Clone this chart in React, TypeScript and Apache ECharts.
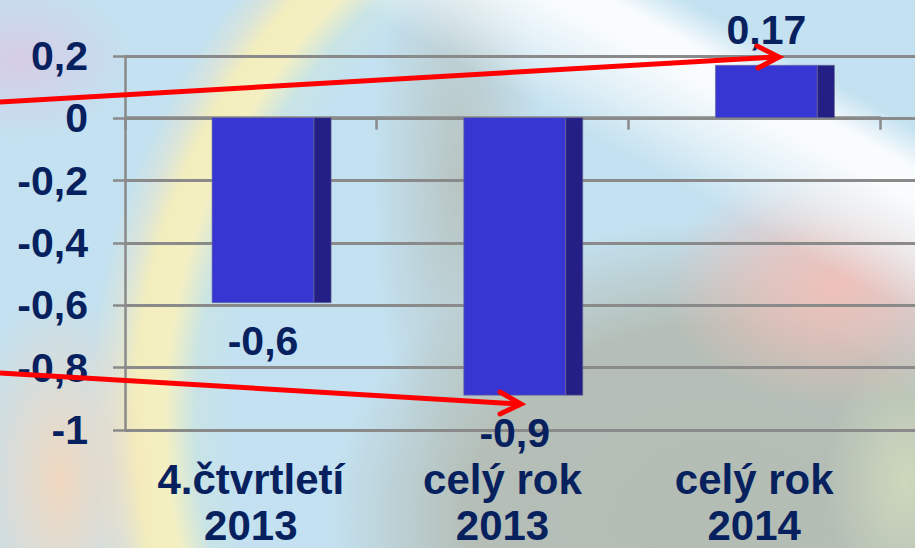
import React, { useEffect, useRef } from "react";
import * as echarts from "echarts";

const categories: string[] = ["4.čtvrtletí\n2013", "celý rok\n2013", "celý rok\n2014"];
const values: number[] = [-0.6, -0.9, 0.17];
const yMin = -1;
const yMax = 0.2;
const yStep = 0.2;

const NAVY = "#07215f";
const FONT = "'Liberation Sans', Arial, 'Helvetica', sans-serif";
const GRID_GRAY = "#8a8a8a";

const fmtComma = (v: number): string => String(Math.round(v * 100) / 100).replace(".", ",");

export default function App() {
  const ref = useRef<HTMLDivElement>(null);

  useEffect(() => {
    if (!ref.current) return;
    const chart = echarts.init(ref.current, undefined, { renderer: "svg" });

    const seriesData = values.map((v, i) => [i, v]);

    const option: any = {
      animation: false,
      backgroundColor: "transparent",
      grid: [
        { left: 125, top: 56, right: 0, height: 374, containLabel: false },
        { left: 125, top: 56, right: 35, height: 374, containLabel: false },
      ],
      xAxis: [
        { gridIndex: 0, type: "value", show: false, min: 0, max: 1 },
        {
          gridIndex: 1,
          type: "category",
          data: categories,
          position: "bottom",
          axisLine: { show: false, onZero: false },
          axisTick: { show: false },
          splitLine: { show: false },
          axisLabel: {
            interval: 0,
            margin: 30,
            color: NAVY,
            fontFamily: FONT,
            fontWeight: "bold",
            fontSize: 42,
            lineHeight: 46,
          },
        },
        {
          gridIndex: 1,
          type: "category",
          data: categories,
          position: "top",
          axisLine: { show: true, onZero: true, lineStyle: { color: GRID_GRAY, width: 2.5 } },
          axisTick: { show: true, inside: true, length: 12, lineStyle: { color: GRID_GRAY, width: 2.5 } },
          axisLabel: { show: false },
          splitLine: { show: false },
        },
      ],
      yAxis: [
        {
          gridIndex: 0,
          type: "value",
          min: yMin,
          max: yMax,
          interval: yStep,
          axisLine: { show: true, onZero: false, lineStyle: { color: GRID_GRAY, width: 2.5 } },
          axisTick: { show: true, length: 12, lineStyle: { color: GRID_GRAY, width: 2.5 } },
          splitLine: { show: true, lineStyle: { color: GRID_GRAY, width: 3 } },
          axisLabel: {
            margin: 37,
            color: NAVY,
            fontFamily: FONT,
            fontWeight: "bold",
            fontSize: 41,
            formatter: (v: number) => fmtComma(v),
          },
        },
        {
          gridIndex: 1,
          type: "value",
          min: yMin,
          max: yMax,
          interval: yStep,
          show: false,
          splitLine: { show: false },
        },
      ],
      series: [
        {
          type: "custom",
          xAxisIndex: 1,
          yAxisIndex: 1,
          data: seriesData,
          encode: { x: 0, y: 1 },
          z: 5,
          renderItem: (params: any, api: any) => {
            const i = api.value(0);
            const v = api.value(1);
            const end = api.coord([i, v]);
            const base = api.coord([i, 0]);
            const band = api.size([1, 0])[0];
            const cx = end[0];
            const frontW = band * 0.405;
            const sideW = band * 0.068;
            const left = cx - band * 0.154;
            const y0 = Math.min(end[1], base[1]);
            const h = Math.abs(end[1] - base[1]);
            const labelY = v < 0 ? end[1] + 38 : end[1] - 35;
            return {
              type: "group",
              children: [
                {
                  type: "rect",
                  shape: { x: left, y: y0, width: frontW, height: h },
                  style: { fill: "#3836d2", stroke: "rgba(110,110,150,0.6)", lineWidth: 1 },
                },
                {
                  type: "rect",
                  shape: { x: left + frontW, y: y0, width: sideW, height: h },
                  style: { fill: "#231f85", stroke: "rgba(110,110,150,0.6)", lineWidth: 1 },
                },
                {
                  type: "text",
                  x: left + frontW / 2,
                  y: labelY,
                  style: {
                    text: fmtComma(v),
                    fill: NAVY,
                    fontFamily: FONT,
                    fontWeight: "bold",
                    fontSize: 41,
                    align: "center",
                    verticalAlign: "middle",
                  },
                },
              ],
            };
          },
        },
      ],
      graphic: [
        {
          type: "line",
          z: 100,
          shape: { x1: 0, y1: 102, x2: 777, y2: 57 },
          style: { stroke: "#ff0000", lineWidth: 5 },
        },
        {
          type: "polyline",
          z: 100,
          shape: { points: [[757, 46], [779, 57], [758, 68]] },
          style: { stroke: "#ff0000", lineWidth: 5, fill: "none", lineJoin: "miter", lineCap: "round" },
        },
        {
          type: "line",
          z: 100,
          shape: { x1: 0, y1: 373, x2: 519, y2: 404 },
          style: { stroke: "#ff0000", lineWidth: 5 },
        },
        {
          type: "polyline",
          z: 100,
          shape: { points: [[500, 392], [521, 404], [500, 414]] },
          style: { stroke: "#ff0000", lineWidth: 5, fill: "none", lineJoin: "miter", lineCap: "round" },
        },
      ],
    };

    chart.setOption(option);
    return () => {
      chart.dispose();
    };
  }, []);

  const bg = [
    // lavender haze top-left
    "radial-gradient(ellipse 110px 80px at 20px 60px, rgba(216,202,228,0.9), rgba(216,202,228,0) 100%)",
    // white diagonal streak
    "linear-gradient(29deg, rgba(255,255,255,0) 70%, rgba(250,252,252,0.5) 75%, rgba(255,255,255,0.9) 81%, rgba(255,255,255,0.9) 84%, rgba(255,255,255,0) 88%)",
    // pink right-middle
    "radial-gradient(ellipse 170px 120px at 835px 285px, rgba(242,192,184,0.95), rgba(242,192,184,0.6) 45%, rgba(242,192,184,0) 100%)",
    // pale yellow-green bottom right
    "radial-gradient(ellipse 80px 130px at 905px 480px, rgba(214,224,190,0.75), rgba(214,224,190,0) 100%)",
    // peach bottom-left
    "radial-gradient(ellipse 95px 190px at 60px 480px, rgba(248,214,182,0.85), rgba(248,214,182,0) 100%)",
    // rainbow arc (yellow band), soft
    "radial-gradient(circle 760px at 763px 419px, rgba(252,242,185,0) 535px, rgba(215,234,205,0.3) 568px, rgba(252,242,186,0.85) 598px, rgba(252,240,180,0.85) 628px, rgba(250,232,190,0.4) 650px, rgba(250,232,190,0) 675px)",
    // grey vertical band
    "radial-gradient(ellipse 85px 300px at 458px 180px, rgba(182,192,186,0.85), rgba(182,192,186,0) 100%)",
    // grey lower-right region
    "radial-gradient(ellipse 390px 300px at 720px 520px, rgba(180,189,180,1) 0%, rgba(180,189,180,0.95) 65%, rgba(180,189,180,0) 100%)",
    "#c3e1f0",
  ].join(", ");

  return (
    <div
      style={{
        position: "absolute",
        left: 0,
        top: 0,
        width: 915,
        height: 548,
        background: bg,
        overflow: "hidden",
      }}
    >
      <div ref={ref} style={{ width: 915, height: 548 }} />
    </div>
  );
}
